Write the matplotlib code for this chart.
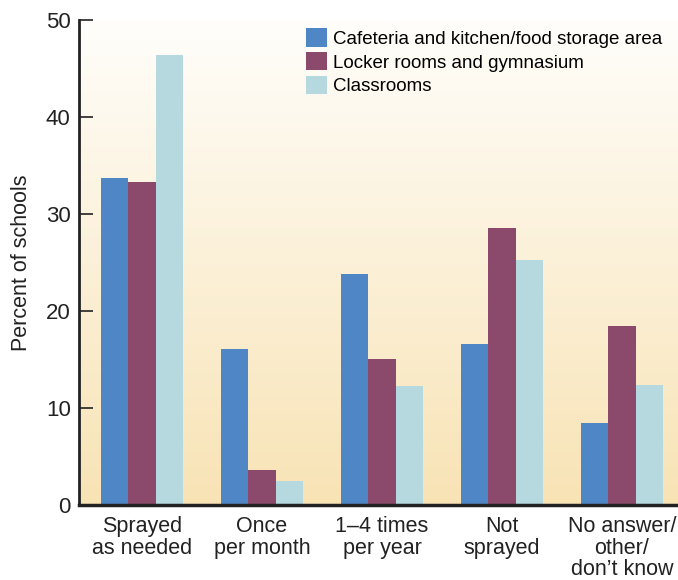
import numpy as np
import matplotlib.pyplot as plt
from matplotlib.colors import LinearSegmentedColormap

plt.rcParams['font.family'] = ['Liberation Sans', 'DejaVu Sans']

categories = ["Sprayed\nas needed", "Once\nper month", "1\u20134 times\nper year",
              "Not\nsprayed", "No answer/\nother/\ndon\u2019t know"]
series_names = ["Cafeteria and kitchen/food storage area",
                "Locker rooms and gymnasium",
                "Classrooms"]
cafeteria = [33.7, 16.1, 23.8, 16.6, 8.5]
locker = [33.3, 3.6, 15.1, 28.6, 18.5]
classrooms = [46.4, 2.5, 12.3, 25.3, 12.4]
yticks = [0, 10, 20, 30, 40, 50]

colors = ["#4f86c6", "#8b4a6b", "#b5d9df"]

fig = plt.figure(figsize=(6.78, 5.8), dpi=100)
ax = fig.add_axes([79 / 678, 75 / 580, 599 / 678, 485 / 580])

# warm vertical gradient behind the bars
grad = LinearSegmentedColormap.from_list("bg", ["#f8e3b5", "#fffefb"])
ax.imshow(np.linspace(0, 1, 256).reshape(-1, 1), cmap=grad, aspect="auto",
          extent=[-0.525, 4.467, 0, 50], origin="lower", zorder=0)

x = np.arange(len(categories))
w = 0.228
for i, (vals, name) in enumerate(zip([cafeteria, locker, classrooms], series_names)):
    ax.bar(x + (i - 1) * w, vals, width=w, color=colors[i], label=name, zorder=2)

ax.set_xlim(-0.525, 4.467)
ax.set_ylim(0, 50)
ax.set_yticks(yticks)
ax.set_xticks(x)
ax.set_xticklabels(categories, fontsize=15.5, color="#222222", linespacing=1.04)
ax.tick_params(axis="y", direction="in", length=10, width=1.2, labelsize=16,
               colors="#222222", pad=6)
ax.tick_params(axis="x", length=0, pad=8)

for s in ["top", "right"]:
    ax.spines[s].set_visible(False)
ax.spines["left"].set_linewidth(2)
ax.spines["bottom"].set_linewidth(2.5)
ax.spines["left"].set_color("#222222")
ax.spines["bottom"].set_color("#222222")

ax.set_ylabel("Percent of schools", fontsize=15.5, color="#222222", labelpad=10)

ax.legend(loc="upper left", bbox_to_anchor=(0.366, 0.998), frameon=False,
          fontsize=13.5, handlelength=1.12, handleheight=1.12, handletextpad=0.35,
          labelspacing=0.22, borderaxespad=0)

fig.savefig("out.png", dpi=100)
